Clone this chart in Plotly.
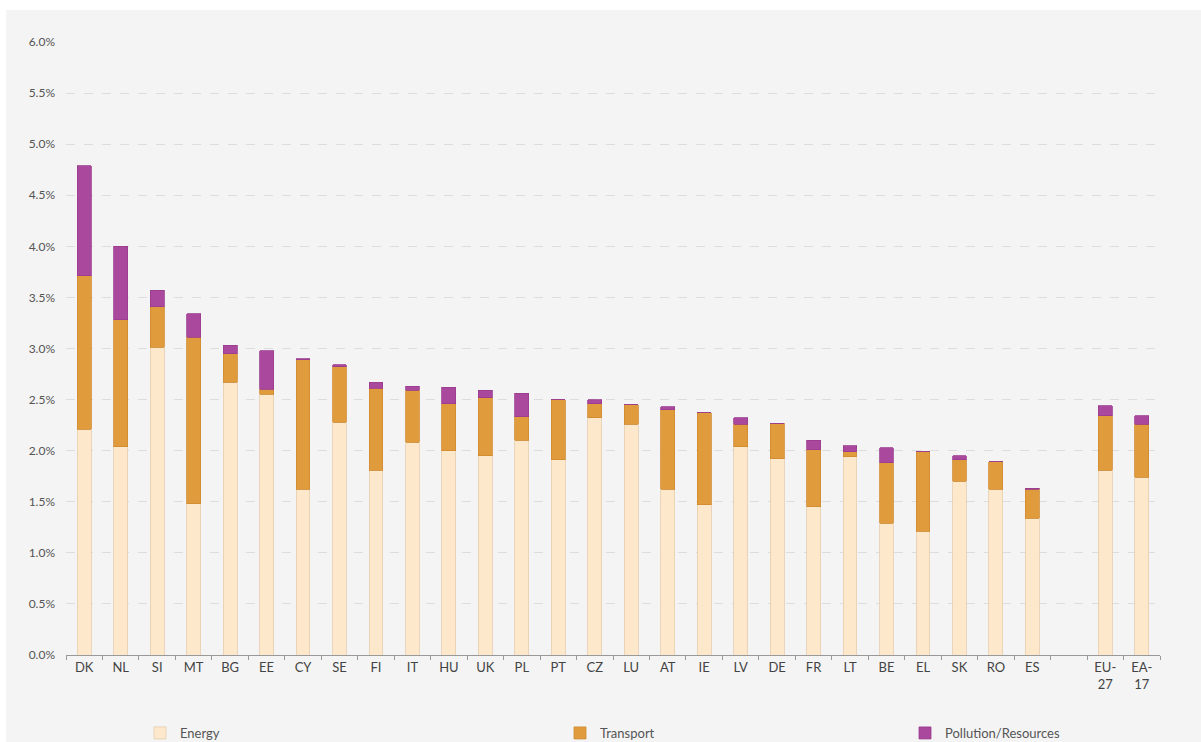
import plotly.graph_objects as go

countries = ["DK", "NL", "SI", "MT", "BG", "EE", "CY", "SE", "FI", "IT", "HU", "UK",
             "PL", "PT", "CZ", "LU", "AT", "IE", "LV", "DE", "FR", "LT", "BE", "EL",
             "SK", "RO", "ES", "EU-27", "EA-17"]
energy = [2.21, 2.04, 3.01, 1.48, 2.67, 2.55, 1.62, 2.28, 1.81, 2.08, 2.00, 1.95,
          2.10, 1.91, 2.32, 2.26, 1.62, 1.47, 2.04, 1.92, 1.45, 1.94, 1.29, 1.21,
          1.70, 1.62, 1.34, 1.81, 1.74]
transport = [1.50, 1.24, 0.40, 1.63, 0.28, 0.05, 1.27, 0.54, 0.80, 0.51, 0.46, 0.57,
             0.23, 0.59, 0.14, 0.19, 0.78, 0.90, 0.22, 0.35, 0.56, 0.05, 0.59, 0.78,
             0.21, 0.27, 0.28, 0.53, 0.52]
pollution = [1.08, 0.72, 0.16, 0.23, 0.08, 0.38, 0.01, 0.02, 0.06, 0.04, 0.16, 0.07,
             0.23, 0.00, 0.04, 0.00, 0.03, 0.00, 0.06, 0.00, 0.09, 0.06, 0.15, 0.00,
             0.04, 0.00, 0.01, 0.10, 0.08]
category_order = countries[:27] + [" "] + countries[27:]
tick_text = countries[:27] + [""] + ["EU-<br>27", "EA-<br>17"]
y_ticks = [0, 0.5, 1.0, 1.5, 2.0, 2.5, 3.0, 3.5, 4.0, 4.5, 5.0, 5.5, 6.0]

W, H = 1201, 742
ML, MR, MT, MB = 66, 41, 42, 87
PW, PH = W - ML - MR, H - MT - MB


def px_x(p):
    return (p - ML) / PW


def px_y(p):
    return (H - MB - p) / PH


font_family = "Lato, Open Sans, Arial, sans-serif"

fig = go.Figure()
series = [
    ("Energy", energy, "#fde8cb", "#e6cdb0", "legend"),
    ("Transport", transport, "#e09b3c", "#d08a30", "legend2"),
    ("Pollution/Resources", pollution, "#a9489c", "#9a3d8e", "legend3"),
]
for name, vals, col, lc, lg in series:
    fig.add_trace(go.Bar(
        x=countries, y=vals, name=name, marker=dict(color=col, line=dict(color=lc, width=0.8)),
        width=0.38, legend=lg, showlegend=True,
        hovertemplate="%{x}: %{y:.2f}%<extra>" + name + "</extra>",
    ))

legend_common = dict(
    orientation="h", yanchor="middle", xanchor="left", bgcolor="rgba(0,0,0,0)",
    font=dict(family=font_family, size=13, color="#555555"), itemwidth=30,
    tracegroupgap=0,
)
fig.update_layout(
    width=W, height=H,
    margin=dict(l=ML, r=MR, t=MT, b=MB, pad=0, autoexpand=False),
    barmode="stack",
    showlegend=True,
    paper_bgcolor="#ffffff",
    plot_bgcolor="rgba(0,0,0,0)",
    font=dict(family=font_family, color="#444444"),
    legend=dict(x=px_x(140), y=px_y(733), **legend_common),
    legend2=dict(x=px_x(560), y=px_y(733), **legend_common),
    legend3=dict(x=px_x(905), y=px_y(733), **legend_common),
    xaxis=dict(
        type="category", categoryorder="array", categoryarray=category_order,
        tickvals=category_order, ticktext=tick_text,
        range=[-0.5, len(category_order) - 0.5],
        tickson="boundaries", ticks="outside", ticklen=4, tickcolor="#999999",
        showline=True, linecolor="#999999", linewidth=1, automargin=False,
        showgrid=False, tickfont=dict(size=13, color="#444444"),
        fixedrange=True,
    ),
    yaxis=dict(
        range=[0, 6.0], tickvals=y_ticks,
        ticktext=[f"{v:.1f}%" for v in y_ticks],
        showgrid=True, gridcolor="#dddddd", griddash="dash", gridwidth=1,
        zeroline=False, showline=False, ticks="", automargin=False,
        tickfont=dict(size=12, color="#555555"), ticklabelstandoff=10,
        fixedrange=True,
    ),
    shapes=[dict(
        type="rect", xref="paper", yref="paper", layer="below",
        x0=px_x(6), x1=px_x(1201), y0=px_y(742), y1=px_y(10),
        fillcolor="#f4f4f4", line=dict(width=0),
    )],
)

fig.write_html(
    "out.html",
    config={"displayModeBar": False},
    post_script="document.body.style.margin='0';document.body.style.overflow='hidden';",
)
